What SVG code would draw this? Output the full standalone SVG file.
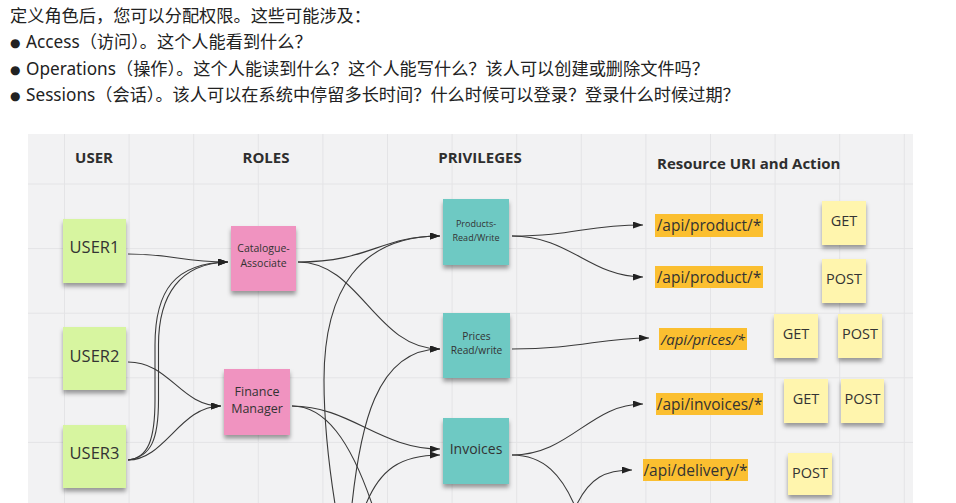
<svg xmlns="http://www.w3.org/2000/svg" width="956" height="503" viewBox="0 0 956 503">
<style>
.intro{font-family:"Noto Sans","Noto Sans CJK SC",sans-serif;font-size:17.2px;fill:#222}
.bul{font-size:12px;font-family:"DejaVu Sans",sans-serif;fill:#222}
.hdr{font-family:"Open Sans",sans-serif;font-weight:700;font-size:15px;fill:#2e2e2e}
.lbl{font-family:"Open Sans",sans-serif;fill:#333;text-anchor:middle}
.user{fill:#d7f5a0}
.role{fill:#f093c0}
.priv{fill:#6ec9c3}
.act{fill:#fff5ad}
.res{fill:#fbbf30}
.grid{stroke:#e4e4e6;stroke-width:1;fill:none}
.conn path{fill:none;stroke:#3a3a3a;stroke-width:1.1;marker-end:url(#arr)}
.conn path.open{marker-end:none}
</style>
<defs>
<marker id="arr" markerUnits="userSpaceOnUse" markerWidth="10" markerHeight="7" refX="10" refY="3.5" orient="auto">
<path d="M0,0 L10,3.5 L0,7 z" fill="#222"/>
</marker>
<filter id="sh" x="-20%" y="-20%" width="140%" height="150%">
<feDropShadow dx="0" dy="3.5" stdDeviation="2.2" flood-color="#000" flood-opacity="0.38"/>
</filter>
</defs>
<rect width="956" height="503" fill="#fff"/>
<g id="intro">
<text class="intro" x="10" y="22">定义角色后，您可以分配权限。这些可能涉及：</text>
<text class="bul" x="10" y="47">●</text>
<text class="intro" x="26" y="48">Access（访问）。这个人能看到什么？</text>
<text class="bul" x="10" y="74">●</text>
<text class="intro" x="26" y="75">Operations（操作）。这个人能读到什么？这个人能写什么？该人可以创建或删除文件吗？</text>
<text class="bul" x="10" y="100">●</text>
<text class="intro" x="26" y="101">Sessions（会话）。该人可以在系统中停留多长时间？什么时候可以登录？登录什么时候过期？</text>
</g>
<rect x="28" y="134" width="885" height="375" fill="#f2f2f3"/>
<path class="grid" d="M64.5,134V503M129.1,134V503M193.7,134V503M258.3,134V503M322.9,134V503M387.5,134V503M452.1,134V503M516.7,134V503M581.3,134V503M645.9,134V503M710.5,134V503M775.1,134V503M839.7,134V503M904.3,134V503M28,184H913M28,248.6H913M28,313.2H913M28,377.8H913M28,442.4H913"/>
<g id="headers">
<text class="hdr" x="94" y="163" text-anchor="middle">USER</text>
<text class="hdr" x="266" y="163" text-anchor="middle">ROLES</text>
<text class="hdr" x="480" y="163" text-anchor="middle">PRIVILEGES</text>
<text class="hdr" x="657" y="168.5">Resource URI and Action</text>
</g>
<g class="conn" id="connectors">
<path d="M128,254 C175,254 180,262 228,262"/>
<path d="M128,460 C148,458 155,440 155,400 L155,345 C155,290 175,263 228,262"/>
<path d="M128,460 C151,457 158.5,440 158.5,400 L158.5,345 C158.5,295 180,263 228,262"/>
<path d="M128,362 C170,362 180,406 221,406"/>
<path d="M128,460 C165,460 180,406 221,406"/>
<path d="M298,262 C370,262 380,236 440,236"/>
<path d="M298,262 C360,262 375,349 440,349"/>
<path d="M292,406 C350,406 380,449 440,449"/>
<path class="open" d="M292,406 C325,406 350,440 372,504"/>
<path d="M335,504 C328,460 324,420 324,380 C324,290 360,236 440,236"/>
<path d="M352,504 C360,430 375,349 440,349"/>
<path d="M366,504 C380,470 400,455 440,455"/>
<path d="M512,236 C575,236 585,225 643,225"/>
<path d="M512,236 C570,236 590,277 643,277"/>
<path d="M512,349 C580,349 600,338 649,338"/>
<path d="M512,455 C570,455 590,404 643,404"/>
<path class="open" d="M512,455 C545,455 562,477 574,504"/>
<path d="M577,504 C590,478 605,470 632,470"/>
</g>
<g id="user1"><rect class="user" x="63" y="219" width="63" height="64" filter="url(#sh)"/><text class="lbl" x="94.5" y="253" font-size="16.5">USER1</text></g>
<g id="user2"><rect class="user" x="63" y="327" width="63" height="63" filter="url(#sh)"/><text class="lbl" x="94.5" y="362" font-size="16.5">USER2</text></g>
<g id="user3"><rect class="user" x="63" y="425" width="63" height="63" filter="url(#sh)"/><text class="lbl" x="94.5" y="459" font-size="16.5">USER3</text></g>
<g id="catalogue-associate"><rect class="role" x="231" y="226" width="65" height="65" filter="url(#sh)"/><text class="lbl" x="263.5" y="252" font-size="10.5">Catalogue-</text><text class="lbl" x="263.5" y="267" font-size="10.5">Associate</text></g>
<g id="finance-manager"><rect class="role" x="224" y="369" width="66" height="66" filter="url(#sh)"/><text class="lbl" x="257" y="396" font-size="12.5">Finance</text><text class="lbl" x="257" y="413" font-size="12.5">Manager</text></g>
<g id="products-rw"><rect class="priv" x="443" y="199" width="66" height="66" filter="url(#sh)"/><text class="lbl" x="476" y="226.5" font-size="9">Products-</text><text class="lbl" x="476" y="240.5" font-size="9">Read/Write</text></g>
<g id="prices-rw"><rect class="priv" x="443" y="313" width="67" height="65" filter="url(#sh)"/><text class="lbl" x="476.5" y="340" font-size="10.2">Prices</text><text class="lbl" x="476.5" y="354" font-size="10.2">Read/write</text></g>
<g id="invoices"><rect class="priv" x="443" y="418" width="66" height="66" filter="url(#sh)"/><text class="lbl" x="476" y="454" font-size="14">Invoices</text></g>
<g id="res-product-get"><rect class="res" x="655" y="214" width="108" height="23"/><text class="lbl" x="709" y="231" font-size="15.5">/api/product/*</text></g>
<g id="res-product-post"><rect class="res" x="655" y="266" width="108" height="22"/><text class="lbl" x="709" y="282.5" font-size="15.5">/api/product/*</text></g>
<g id="res-prices"><rect class="res" x="659" y="328" width="88" height="22"/><text class="lbl" x="703" y="344.5" font-size="15" font-style="italic">/api/prices/*</text></g>
<g id="res-invoices"><rect class="res" x="656" y="393" width="107" height="22"/><text class="lbl" x="709.5" y="409.5" font-size="15.5">/api/invoices/*</text></g>
<g id="res-delivery"><rect class="res" x="643" y="459" width="105" height="22"/><text class="lbl" x="695.5" y="475.5" font-size="15.5">/api/delivery/*</text></g>
<g id="act-get-1"><rect class="act" x="822" y="201" width="44" height="44" filter="url(#sh)"/><text class="lbl" x="844" y="226" font-size="14.5">GET</text></g>
<g id="act-post-1"><rect class="act" x="822" y="259" width="44" height="44" filter="url(#sh)"/><text class="lbl" x="844" y="284" font-size="14.5">POST</text></g>
<g id="act-get-2"><rect class="act" x="774" y="314" width="44" height="44" filter="url(#sh)"/><text class="lbl" x="796" y="339" font-size="14.5">GET</text></g>
<g id="act-post-2"><rect class="act" x="838" y="314" width="44" height="44" filter="url(#sh)"/><text class="lbl" x="860" y="339" font-size="14.5">POST</text></g>
<g id="act-get-3"><rect class="act" x="784" y="379" width="44" height="44" filter="url(#sh)"/><text class="lbl" x="806" y="404" font-size="14.5">GET</text></g>
<g id="act-post-3"><rect class="act" x="841" y="379" width="43" height="44" filter="url(#sh)"/><text class="lbl" x="862.5" y="404" font-size="14.5">POST</text></g>
<g id="act-post-4"><rect class="act" x="788" y="453" width="44" height="42" filter="url(#sh)"/><text class="lbl" x="810" y="477.5" font-size="14.5">POST</text></g>
</svg>
